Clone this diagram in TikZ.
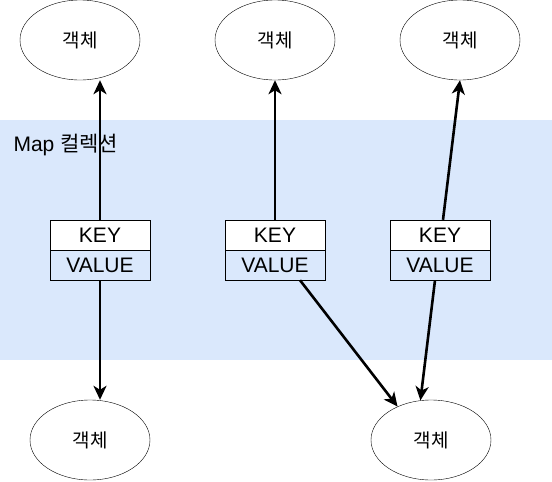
\documentclass[tikz,border=0pt]{standalone}
\usepackage{fontspec}
\setmainfont{Liberation Sans}
\newfontfamily\kr{Noto Sans CJK KR}
\usepackage{tikz}
\usetikzlibrary{shapes.geometric, arrows.meta}
\usepackage{xcolor}
\definecolor{mapblue}{HTML}{DAE8FC}

\begin{document}
\begin{tikzpicture}[x=1pt, y=-1pt,
			obj/.style={draw, ellipse, minimum width=120pt, minimum height=80pt, inner sep=0pt, font=\kr\fontsize{19}{19}\selectfont},
			keybox/.style={draw, rectangle, minimum width=100pt, minimum height=30pt, inner sep=0pt, fill=white, font=\fontsize{21}{21}\selectfont},
			valbox/.style={keybox, fill=mapblue},
			link/.style={line width=2.6pt, -{Stealth[length=14pt, width=13pt, inset=4pt]}}]
			\useasboundingbox (0,0) rectangle (552,482);
			\fill[mapblue] (0,120) rectangle (552,360);
			\node[anchor=west, font=\fontsize{21}{21}\selectfont] (maplabel) at (10,145) {Map {\kr 컬렉션}};
			% objects
			\node[obj] (e1) at (80,40) {객체};
			\node[obj] (e2) at (275,40) {객체};
			\node[obj] (e3) at (460,40) {객체};
			\node[obj] (b1) at (90,440) {객체};
			\node[obj] (b2) at (431,440) {객체};
			% entries
			\node[keybox] (k1) at (100,235) {KEY};
			\node[valbox] (v1) at (100,265) {VALUE};
			\node[keybox] (k2) at (275,235) {KEY};
			\node[valbox] (v2) at (275,265) {VALUE};
			\node[keybox] (k3) at (440,235) {KEY};
			\node[valbox] (v3) at (440,265) {VALUE};
			\draw[link] (k1.north) -- (k1.north |- e1.south);
			\draw[link] (k2.north) -- (e2.south);
			\draw[link] ([xshift=3pt]k3.north) -- (e3.south);
			\draw[link] (v1.south) -- (v1.south |- b1.north);
			\draw[link] ([xshift=25pt]v2.south) -- (b2.135);
			\draw[link] ([xshift=-5pt]v3.south) -- (b2.105);
		\end{tikzpicture}
\end{document}
